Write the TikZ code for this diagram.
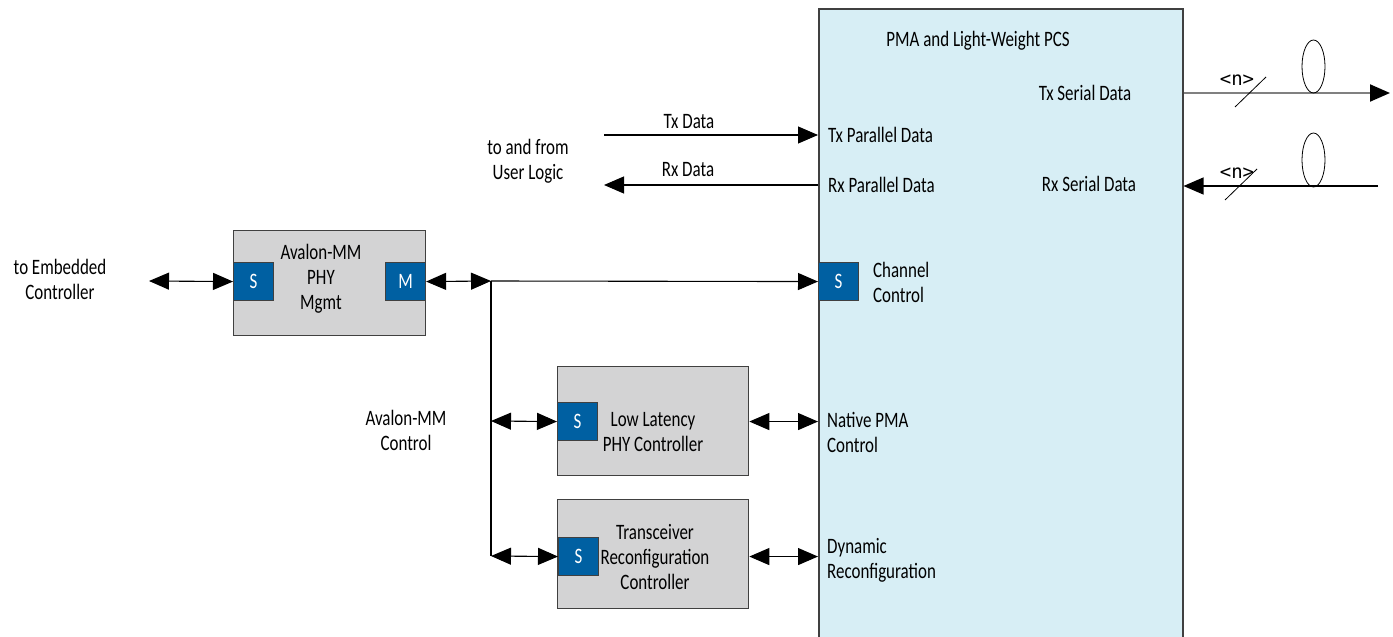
\documentclass[tikz,border=0pt]{standalone}
\usepackage{fontspec}
\setmainfont[FakeStretch=0.77]{Carlito}
\newfontfamily\monofnt{DejaVu Sans Mono}
\usetikzlibrary{arrows.meta}
\definecolor{sblue}{RGB}{0,96,162}
\definecolor{boxgray}{RGB}{211,211,212}
\definecolor{pmablue}{RGB}{215,238,245}
\definecolor{edgegray}{RGB}{64,64,64}
\tikzset{
  >={Triangle[length=20pt,width=17pt]},
  conn/.style={line width=1.1pt, draw=black},
  gbox/.style={draw=edgegray, fill=boxgray, line width=1.3pt, anchor=north west, inner sep=0pt},
  sbox/.style={draw=edgegray, fill=sblue, line width=1.1pt, text=white, minimum width=40pt, minimum height=38pt, inner sep=0pt, anchor=north west, font=\fontsize{22}{25}\selectfont},
  lbl/.style={font=\fontsize{22}{25}\selectfont, align=center, inner sep=0pt},
  lbll/.style={lbl, align=left, anchor=west},
  nlbl/.style={font=\monofnt\fontsize{19}{20}\selectfont, inner sep=0pt},
  thin/.style={line width=0.8pt, draw=black},
}
\begin{document}
\begin{tikzpicture}[x=1pt,y=-1pt]
\useasboundingbox (0,0) rectangle (1393,637);
% big PMA box
\node[draw=edgegray, fill=pmablue, line width=1.5pt, anchor=north west, minimum width=364pt, minimum height=650pt, inner sep=0pt] (pma) at (818,8) {};
\node[lbl] (pmat) at (978,41) {PMA and Light-Weight PCS};
\node[lbll] (txpd) at (828,135) {Tx Parallel Data};
\node[lbll] (rxpd) at (828,185) {Rx Parallel Data};
\node[lbl] (txsd) at (1085,93) {Tx Serial Data};
\node[lbl] (rxsd) at (1089,184) {Rx Serial Data};
\node[lbll] (chct) at (873,282) {Channel\\Control};
\node[lbll] (npma) at (827,432) {Native PMA\\Control};
\node[lbll] (dynr) at (827,560) {Dynamic\\Reconfiguration};
\node[sbox] (chs) at (818,262) {S};

% Avalon-MM PHY Mgmt
\node[gbox, minimum width=192pt, minimum height=105pt] (mgmt) at (233,230) {};
\node[lbl] (mgmtt) at (321,279) {Avalon-MM\\PHY\\Mgmt};
\node[sbox] (mgs) at (233,262) {S};
\node[sbox] (mgm) at (385,262) {M};

% Low latency PHY controller
\node[gbox, minimum width=191pt, minimum height=109pt] (llb) at (557,366) {};
\node[lbl] (llt) at (653,432) {Low Latency\\PHY Controller};
\node[sbox] (lls) at (557,402) {S};

% Transceiver reconfiguration controller
\node[gbox, minimum width=191pt, minimum height=109pt] (trb) at (557,499) {};
\node[lbl] (trt) at (655,557) {Transceiver\\Reconfiguration\\Controller};
\node[sbox] (trs) at (558,537) {S};

% left labels
\node[lbl] (emb) at (60,279) {to Embedded\\Controller};
\node[lbl] (usr) at (528,161) {to and from\\User Logic};
\node[lbl] (txd) at (689,122) {Tx Data};
\node[lbl] (rxd) at (688,170) {Rx Data};
\node[lbl] (avc) at (406,430) {Avalon-MM\\Control};

% connectors
\coordinate (embend) at (149,281);
\coordinate (j1) at (491,281);
\coordinate (j2) at (491,421);
\coordinate (j3) at (491,556);
\coordinate (txs) at (604,135);
\coordinate (rxe) at (604,185);
\draw[conn,<->] (embend) -- (mgs.west);
\draw[conn,<->] (mgm.east) -- (j1);
\draw[conn,->] (j1) -- (chs.west);
\draw[conn] (j1) -- (j3);
\draw[conn,<->] (j2) -- (lls.west);
\draw[conn,<->] (j3) -- (trs.west);
\draw[conn,<->] (llb.east |- lls.center) -- (pma.west |- lls.center);
\draw[conn,<->] (trb.east |- trs.center) -- (pma.west |- trs.center);
\draw[conn,->] (txs) -- (txs -| pma.west);
\draw[conn,->] (rxe -| pma.west) -- (rxe);

% serial data
\coordinate (txo) at (1390,93);
\coordinate (rxi) at (1378,186);
\draw[line width=2pt, draw=gray, -{Triangle[length=20pt,width=17pt,color=black]}] (pma.east |- txo) -- (txo);
\draw[conn,->] (rxi) -- (rxi -| pma.east);
\draw[thin] (1235,107) -- (1266,77);
\draw[thin] (1225,200) -- (1257,169);
\node[nlbl] (ntx) at (1237,80) {<n>};
\node[nlbl] (nrx) at (1237,173) {<n>};
\draw[thin] (1313.5,66.5) ellipse [x radius=11.5pt, y radius=26.5pt];
\draw[thin] (1313.5,160) ellipse [x radius=11.5pt, y radius=27pt];
\end{tikzpicture}
\end{document}
